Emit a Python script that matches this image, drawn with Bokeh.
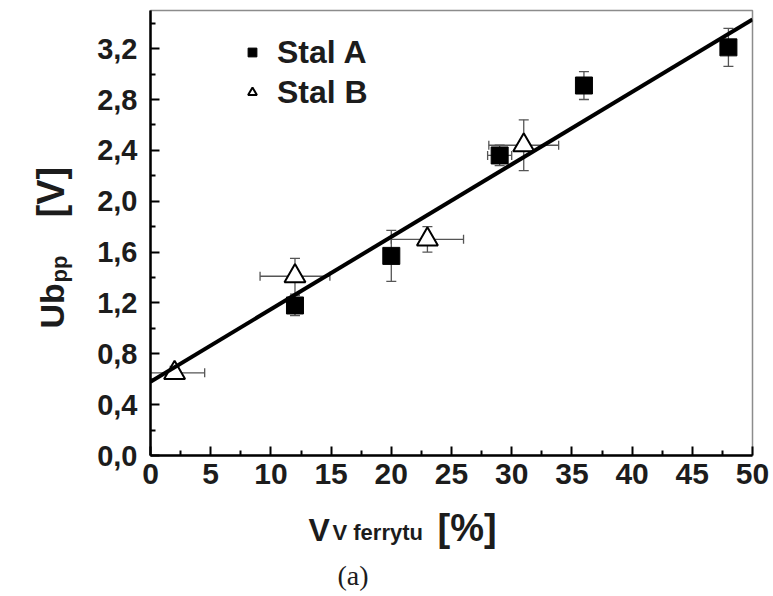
import math
from bokeh.plotting import figure
from bokeh.layouts import row, column
from bokeh.models import (Range1d, FixedTicker, CustomJSTickFormatter, Whisker, TeeHead,
                          ColumnDataSource, Label, Legend, LegendItem)
from bokeh.embed import file_html
from bokeh.resources import INLINE

# ---- data ----
a_x = [12, 20, 29, 36, 48]
a_y = [1.18, 1.57, 2.36, 2.91, 3.21]
a_yerr = [0.08, 0.20, 0.08, 0.11, 0.15]
a_xerr = [0.0, 0.0, 1.0, 0.0, 0.0]

b_x = [2, 12, 23, 31]
b_y = [0.65, 1.41, 1.70, 2.44]
b_yerr = [0.05, 0.14, 0.10, 0.20]
b_xerr = [2.5, 2.9, 3.0, 2.9]

fit_x = [0, 50]
fit_y = [0.58, 3.43]

x_ticks = [0, 5, 10, 15, 20, 25, 30, 35, 40, 45, 50]
y_ticks = [0.0, 0.4, 0.8, 1.2, 1.6, 2.0, 2.4, 2.8, 3.2]

series_names = ["Stal A", "Stal B"]

# ---- layout sizes ----
W, H = 773, 596
LW = 80            # width of the strip holding the y title
MH = 500           # height of the main plot canvas
BH = H - MH        # height of the strip holding x title and caption
MW = W - LW
B_LEFT, B_RIGHT, B_TOP, B_BOTTOM = 70, 21, 10, 45

p = figure(width=MW, height=MH, x_range=Range1d(0, 50), y_range=Range1d(0, 3.5),
           output_backend="svg", toolbar_location=None,
           min_border_left=B_LEFT, min_border_right=B_RIGHT,
           min_border_top=B_TOP, min_border_bottom=B_BOTTOM)
p.background_fill_color = "white"
p.border_fill_color = "white"
p.xgrid.visible = False
p.ygrid.visible = False
p.outline_line_color = "#8c8c8c"
p.outline_line_width = 1.5

for ax in (p.xaxis, p.yaxis):
    ax.axis_line_color = "black"
    ax.axis_line_width = 2.5
    ax.major_tick_in = 9
    ax.major_tick_out = 0
    ax.minor_tick_in = 5
    ax.minor_tick_out = 0
    ax.major_tick_line_width = 2
    ax.minor_tick_line_width = 2
    ax.major_tick_line_color = "black"
    ax.minor_tick_line_color = "black"
    ax.major_label_text_font = "Liberation Sans"
    ax.major_label_text_font_style = "bold"
    ax.major_label_text_color = "#1c1c1c"
p.xaxis.major_label_text_font_size = "30px"
p.yaxis.major_label_text_font_size = "29px"

p.xaxis.ticker = FixedTicker(ticks=x_ticks,
                             minor_ticks=[t + 2.5 for t in x_ticks[:-1]])
p.yaxis.ticker = FixedTicker(ticks=y_ticks,
                             minor_ticks=[t + 0.2 for t in y_ticks])
p.yaxis.formatter = CustomJSTickFormatter(code="return tick.toFixed(1).replace('.', ',');")
p.xaxis.major_label_standoff = 8
p.yaxis.major_label_standoff = 13


# ---- error bars ----
def whisk(base_vals, centers, errs, dim, head):
    idx = [i for i, e in enumerate(errs) if e > 0]
    src = ColumnDataSource(dict(base=[base_vals[i] for i in idx],
                                upper=[centers[i] + errs[i] for i in idx],
                                lower=[centers[i] - errs[i] for i in idx]))
    return Whisker(source=src, base="base", upper="upper", lower="lower",
                   dimension=dim, line_color="#555555", line_width=1.3,
                   upper_head=TeeHead(size=head, line_color="#555555", line_width=1.3),
                   lower_head=TeeHead(size=head, line_color="#555555", line_width=1.3),
                   level="underlay")


p.add_layout(whisk(a_x, a_y, a_yerr, "height", 10))
p.add_layout(whisk(a_y, a_x, a_xerr, "width", 9))
p.add_layout(whisk(b_x, b_y, b_yerr, "height", 10))
p.add_layout(whisk(b_y, b_x, b_xerr, "width", 9))

# ---- markers and fit ----
ra = p.scatter(a_x, a_y, marker="square", size=17, fill_color="black", line_color="black")
rb = p.scatter(b_x, b_y, marker="triangle", size=21, fill_color="white",
               line_color="black", line_width=2)
p.line(fit_x, fit_y, line_width=4, line_color="black")

legend = Legend(items=[LegendItem(label=series_names[0], renderers=[ra]),
                       LegendItem(label=series_names[1], renderers=[rb])],
                location=(86, 339), orientation="vertical",
                label_text_font="Liberation Sans", label_text_font_style="bold",
                label_text_font_size="32px", label_text_color="#1c1c1c",
                glyph_width=22, glyph_height=22, label_height=38, label_standoff=14,
                spacing=2, padding=5, margin=0,
                background_fill_alpha=0, border_line_alpha=0)
p.add_layout(legend)


# ---- text strips (y title on the left, x title and caption below) ----
# Their data coordinates equal page pixels (x from the left, y from the top).
def strip(w, h, xr, yr, bl, br, bt, bb):
    f = figure(width=w, height=h, x_range=Range1d(*xr), y_range=Range1d(*yr),
               output_backend="svg", toolbar_location=None,
               x_axis_location=None, y_axis_location=None,
               min_border_left=bl, min_border_right=br,
               min_border_top=bt, min_border_bottom=bb)
    f.xgrid.visible = False
    f.ygrid.visible = False
    f.outline_line_color = None
    f.background_fill_color = "white"
    f.border_fill_color = "white"
    return f


def lab(f, text, x, y, size, angle=0.0, fnt="Liberation Sans", style="bold"):
    # (x, y) is the start of the text and the middle of its height
    f.add_layout(Label(x=x, y=y, text=text, angle=angle,
                       text_font=fnt, text_font_style=style, text_font_size=size,
                       text_color="#1c1c1c", text_align="left",
                       text_baseline="middle"))


# left strip: page x 0..80, frame rows page y 10..455
left = strip(LW, H, (0, LW), (H - 141, 10), 0, 0, 10, 141)
lab(left, "Ub", 51, 328, "34px", angle=math.pi / 2)
lab(left, "pp", 59, 282, "22px", angle=math.pi / 2)
lab(left, "[V]", 50, 217, "38px", angle=math.pi / 2)

# bottom strip: page x 150..752 on its frame, page y 500..596
bottom = strip(MW, BH, (LW + B_LEFT, W - B_RIGHT), (H, MH), B_LEFT, B_RIGHT, 0, 0)
lab(bottom, "V", 308, 529, "32px")
lab(bottom, "V ferrytu", 332, 532, "22px")
lab(bottom, "[%]", 437, 527, "38px")
lab(bottom, "(a)", 337, 575, "28px", fnt="Liberation Serif", style="normal")

layout = row(left, column(p, bottom, spacing=0), spacing=0)

open("out.html", "w").write(file_html(layout, INLINE))
